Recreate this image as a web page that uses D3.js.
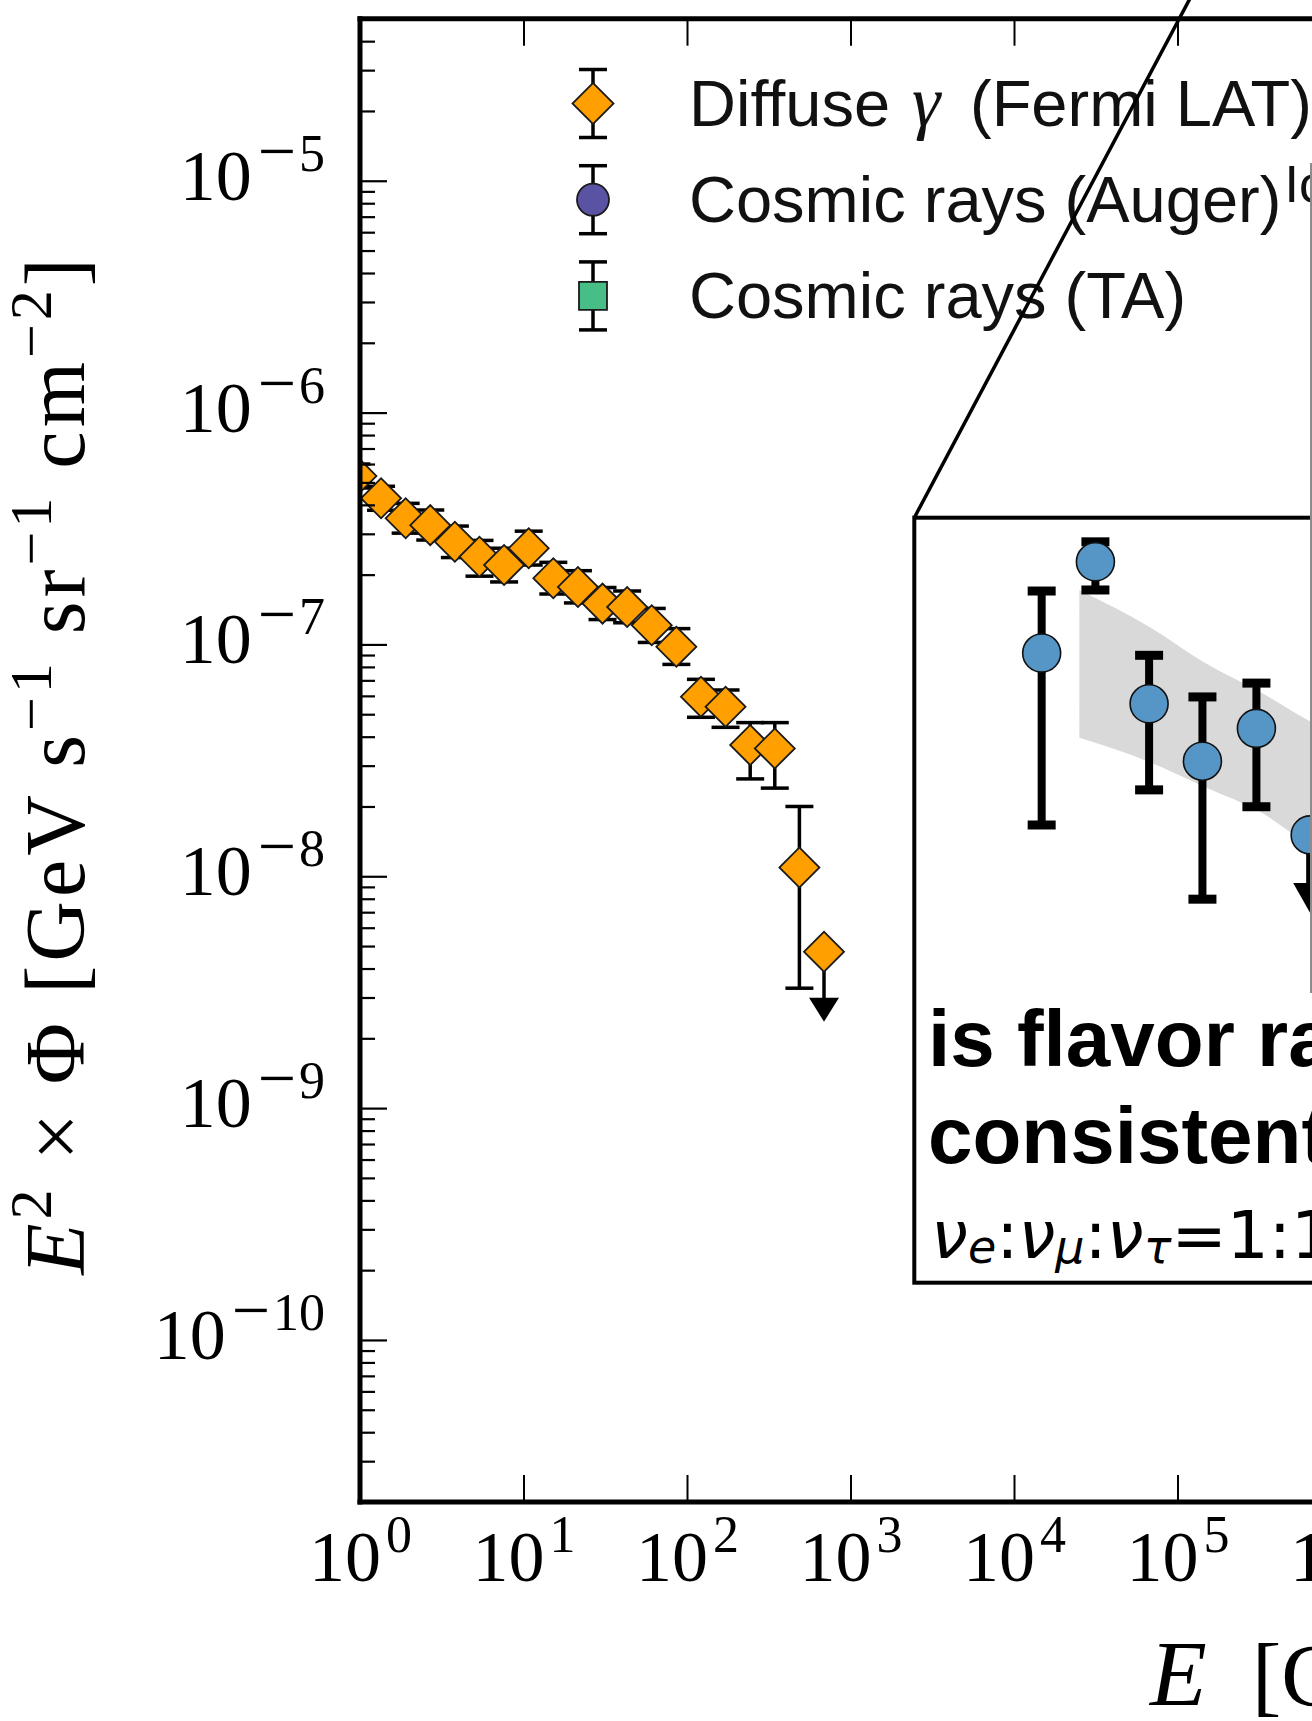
<!DOCTYPE html>
<html>
<head>
<meta charset="utf-8">
<title>Diffuse gamma rays, cosmic rays and astrophysical neutrinos</title>
<script src="https://cdn.jsdelivr.net/npm/d3@7/dist/d3.min.js"></script>
<style>
  html, body { margin: 0; padding: 0; background: #fff; overflow: hidden; }
  svg { display: block; }
</style>
</head>
<body>
<svg id="chart" width="1312" height="1721"></svg>
<script>
// ---------------- data ----------------
// Fermi LAT diffuse gamma-ray spectrum: bin centres [GeV]
const fermiEnergy = [0.951, 1.345, 1.902, 2.690, 3.804, 5.380, 7.608, 10.76, 15.22, 21.52,
                     30.43, 43.04, 60.87, 86.08, 121.7, 172.1, 243.5, 344.3, 486.9, 688.6];
// E^2 x Phi [GeV s^-1 sr^-1 cm^-2]
const fermiFlux = [5.33e-7, 4.27e-7, 3.50e-7, 3.27e-7, 2.77e-7, 2.39e-7, 2.20e-7, 2.60e-7, 1.93e-7, 1.77e-7,
                   1.50e-7, 1.45e-7, 1.21e-7, 9.78e-8, 5.95e-8, 5.39e-8, 3.68e-8, 3.56e-8, 1.09e-8, 4.73e-9];
const fermiHigh = [6.00e-7, 4.81e-7, 4.06e-7, 3.80e-7, 3.24e-7, 2.81e-7, 2.60e-7, 3.08e-7, 2.26e-7, 2.08e-7,
                   1.76e-7, 1.70e-7, 1.43e-7, 1.17e-7, 7.07e-8, 6.36e-8, 4.60e-8, 4.60e-8, 2.00e-8, null];
// lower error; for the upper limit this is where the arrow points to
const fermiLow = [4.73e-7, 3.79e-7, 3.02e-7, 2.82e-7, 2.37e-7, 1.97e-7, 1.86e-7, 2.20e-7, 1.65e-7, 1.51e-7,
                  1.28e-7, 1.24e-7, 1.02e-7, 8.20e-8, 4.85e-8, 4.39e-8, 2.63e-8, 2.40e-8, 3.29e-9, 2.36e-9];
const fermiIsLimit = [false, false, false, false, false, false, false, false, false, false,
                      false, false, false, false, false, false, false, false, false, true];

// IceCube neutrino spectrum (inset): energy [GeV], E^2 x Phi
const icecubeEnergy = [3.98e4, 6.31e4, 1.00e5, 1.58e5, 2.51e5, 3.98e5];
const icecubeFlux = [2.33e-8, 3.94e-8, 1.74e-8, 1.25e-8, 1.51e-8, 8.18e-9];
const icecubeHigh = [3.33e-8, 4.42e-8, 2.30e-8, 1.81e-8, 1.96e-8, null];
const icecubeLow = [8.66e-9, 3.35e-8, 1.06e-8, 5.65e-9, 9.62e-9, 5.22e-9];
const icecubeIsLimit = [false, false, false, false, false, true];

// best-fit band in the inset
const bandEnergy = [5.5e4, 1.0e5, 1.6e5, 2.6e5, 4.0e5, 5.4e5];
const bandHigh = [3.35e-8, 2.71e-8, 2.21e-8, 1.86e-8, 1.57e-8, 1.42e-8];
const bandLow = [1.43e-8, 1.245e-8, 1.08e-8, 9.33e-9, 7.67e-9, 6.84e-9];

// tick labels (powers of ten)
const xTickExponents = [0, 1, 2, 3, 4, 5, 6, 7, 8, 9, 10, 11];
const yTickExponents = [-10, -9, -8, -7, -6, -5];

// legend
const legendLabels = ["Diffuse γ (Fermi LAT)", "Cosmic rays (Auger)", "Cosmic rays (TA)"];
const legendSymbols = ["diamond", "circle", "square"];
const legendColors = ["#ffa000", "#5a52a3", "#48be87"];

// ---------------- layout ----------------
const W = 1312, H = 1721;
const frame = { left: 360, top: 18.7, bottom: 1502, decadePx: 163.5 };
const serif = "'Liberation Serif', 'Times New Roman', serif";
const sans = "'Liberation Sans', Arial, Helvetica, sans-serif";
const dejavu = "'DejaVu Sans', sans-serif";
const ORANGE = legendColors[0];
const BLUE = "#5596c6";

const svg = d3.select("#chart");

const x = d3.scaleLog().domain([1e0, 1e11])
  .range([frame.left, frame.left + 11 * frame.decadePx]);
const y = d3.scaleLog().domain([2e-11, 5e-5]).range([frame.bottom, frame.top]);

svg.append("defs").append("clipPath").attr("id", "plot-area")
  .append("rect")
  .attr("x", frame.left).attr("y", frame.top)
  .attr("width", W - frame.left + 100).attr("height", frame.bottom - frame.top);

// ---------------- Fermi points ----------------
const fermi = fermiEnergy.map((E, i) => ({
  E, v: fermiFlux[i], hi: fermiHigh[i], lo: fermiLow[i], limit: fermiIsLimit[i]
}));

const dataLayer = svg.append("g").attr("clip-path", "url(#plot-area)");
const bars = dataLayer.append("g").attr("stroke", "#000").attr("stroke-width", 3.5);

fermi.filter(d => !d.limit).forEach(d => {
  const cx = x(d.E);
  bars.append("line").attr("x1", cx).attr("x2", cx).attr("y1", y(d.hi)).attr("y2", y(d.lo));
  [d.hi, d.lo].forEach(v => {
    bars.append("line").attr("x1", cx - 14).attr("x2", cx + 14).attr("y1", y(v)).attr("y2", y(v));
  });
});
fermi.filter(d => d.limit).forEach(d => {
  const cx = x(d.E), tip = y(d.lo);
  bars.append("line").attr("x1", cx).attr("x2", cx).attr("y1", y(d.v)).attr("y2", tip - 23);
  dataLayer.append("path")
    .attr("d", `M${cx - 15},${tip - 24}L${cx + 15},${tip - 24}L${cx},${tip}Z`)
    .attr("fill", "#000");
});

const diamondPath = d3.symbol(d3.symbolSquare, 800)();
dataLayer.append("g").selectAll("path").data(fermi).join("path")
  .attr("d", diamondPath)
  .attr("transform", d => `translate(${x(d.E)},${y(d.v)}) rotate(45)`)
  .attr("fill", ORANGE).attr("stroke", "#1a1a1a").attr("stroke-width", 1.8);

// ---------------- axes ----------------
function powerLabel(textSel, exp) {
  textSel.append("tspan").text("10");
  if (exp < 0) {
    textSel.append("tspan").attr("font-size", 68).attr("dx", 6).attr("dy", -26).text("\u2212");
    textSel.append("tspan").attr("font-size", 52).attr("dx", 3).attr("dy", -3).text(String(-exp));
  } else {
    textSel.append("tspan").attr("font-size", 52).attr("dx", 5).attr("dy", -29).text(String(exp));
  }
}

const xDecades = xTickExponents.map(e => Math.pow(10, e));

const xBottom = svg.append("g").attr("transform", `translate(0,${frame.bottom})`)
  .call(d3.axisBottom(x).tickValues(xDecades).tickSizeInner(-27).tickSizeOuter(0).tickFormat(() => ""));
xBottom.select(".domain").remove();
xBottom.selectAll(".tick line").attr("stroke", "#000").attr("stroke-width", 2);
xBottom.selectAll(".tick text").remove();
xBottom.selectAll(".tick").each(function (d) {
  const t = d3.select(this).append("text")
    .attr("x", 0).attr("y", 78.7)
    .attr("text-anchor", "middle")
    .attr("font-family", serif).attr("font-size", 72).attr("fill", "#000");
  powerLabel(t, Math.round(Math.log10(d)));
});

const xTop = svg.append("g").attr("transform", `translate(0,${frame.top})`)
  .call(d3.axisTop(x).tickValues(xDecades).tickSizeInner(-27).tickSizeOuter(0).tickFormat(() => ""));
xTop.select(".domain").remove();
xTop.selectAll(".tick line").attr("stroke", "#000").attr("stroke-width", 2);
xTop.selectAll(".tick text").remove();

const yMajor = yTickExponents.map(e => Math.pow(10, e));
const yMinor = y.ticks().filter(v => !yMajor.some(m => Math.abs(v - m) / m < 1e-6));

const yMinorAxis = svg.append("g").attr("transform", `translate(${frame.left},0)`)
  .call(d3.axisLeft(y).tickValues(yMinor).tickSizeInner(-15).tickSizeOuter(0).tickFormat(() => ""));
yMinorAxis.select(".domain").remove();
yMinorAxis.selectAll(".tick line").attr("stroke", "#000").attr("stroke-width", 2.2);
yMinorAxis.selectAll(".tick text").remove();

const yMajorAxis = svg.append("g").attr("transform", `translate(${frame.left},0)`)
  .call(d3.axisLeft(y).tickValues(yMajor).tickSizeInner(-27).tickSizeOuter(0).tickFormat(() => ""));
yMajorAxis.select(".domain").remove();
yMajorAxis.selectAll(".tick line").attr("stroke", "#000").attr("stroke-width", 2.2);
yMajorAxis.selectAll(".tick text").remove();
yMajorAxis.selectAll(".tick").each(function (d) {
  const t = d3.select(this).append("text")
    .attr("x", -35).attr("y", 18.5)
    .attr("text-anchor", "end")
    .attr("font-family", serif).attr("font-size", 72).attr("fill", "#000");
  powerLabel(t, Math.round(Math.log10(d)));
});

// spines
const spines = svg.append("g").attr("stroke", "#000").attr("stroke-width", 5).attr("stroke-linecap", "square");
spines.append("line").attr("x1", frame.left).attr("x2", frame.left).attr("y1", frame.top).attr("y2", frame.bottom);
spines.append("line").attr("x1", frame.left).attr("x2", W + 20).attr("y1", frame.top).attr("y2", frame.top);
spines.append("line").attr("x1", frame.left).attr("x2", W + 20).attr("y1", frame.bottom).attr("y2", frame.bottom);

// axis titles
const yTitle = svg.append("text")
  .attr("transform", "translate(83.5,764.5) rotate(-90)")
  .attr("text-anchor", "middle")
  .attr("font-family", serif).attr("font-size", 84).attr("fill", "#000")
  .attr("letter-spacing", 4);
[
  { t: "E", it: true }, { t: "2", sup: true },
  { t: " \u00d7 \u03a6 [GeV s" }, { t: "\u22121", sup: true },
  { t: " sr" }, { t: "\u22121", sup: true },
  { t: " cm" }, { t: "\u22122", sup: true }, { t: "]" }
].reduce((raised, seg) => {
  const ts = yTitle.append("tspan").text(seg.t);
  if (seg.it) ts.attr("font-style", "italic");
  if (seg.sup) { ts.attr("font-size", 60).attr("dy", -33); return true; }
  if (raised) ts.attr("dy", 33);
  return false;
}, false);

const xTitle = svg.append("text")
  .attr("y", 1705)
  .attr("font-family", serif).attr("font-size", 88).attr("fill", "#000");
xTitle.append("tspan").attr("x", 1150).attr("font-style", "italic").attr("font-size", 93).text("E");
xTitle.append("tspan").attr("x", 1252).text("[GeV]");

// ---------------- legend ----------------
const legend = svg.append("g");
const legendX = 593, legendY0 = 103.5, legendStep = 96.2;
legendLabels.forEach((label, i) => {
  const cy = legendY0 + i * legendStep;
  const g = legend.append("g");
  g.append("line").attr("x1", legendX).attr("x2", legendX).attr("y1", cy - 34).attr("y2", cy + 34)
    .attr("stroke", "#000").attr("stroke-width", 3.5);
  [cy - 34, cy + 34].forEach(v => g.append("line")
    .attr("x1", legendX - 14).attr("x2", legendX + 14).attr("y1", v).attr("y2", v)
    .attr("stroke", "#000").attr("stroke-width", 3.5));
  let d, rot = "";
  if (legendSymbols[i] === "diamond") { d = d3.symbol(d3.symbolSquare, 840)(); rot = " rotate(45)"; }
  else if (legendSymbols[i] === "circle") { d = d3.symbol(d3.symbolCircle, Math.PI * 16 * 16)(); }
  else { d = d3.symbol(d3.symbolSquare, 784)(); }
  g.append("path").attr("d", d).attr("transform", `translate(${legendX},${cy})${rot}`)
    .attr("fill", legendColors[i]).attr("stroke", "#1a1a1a").attr("stroke-width", 1.8);

  const txt = g.append("text").attr("x", 689).attr("y", cy + 22.5)
    .attr("font-family", sans).attr("font-size", 65).attr("fill", "#111");
  const parts = label.split("γ");
  if (parts.length === 2) {
    txt.append("tspan").text(parts[0].trim());
    txt.append("tspan").attr("x", 912).attr("font-family", serif).attr("font-style", "italic")
      .attr("font-size", 72).text("γ");
    txt.append("tspan").attr("x", 970).text(parts[1].trim());
  } else {
    txt.text(label);
  }
});

// fragment of a neighbouring label at the right edge
svg.append("text").attr("x", 1284.5).attr("y", 201.7)
  .attr("font-family", sans).attr("font-size", 52).attr("fill", "#111").text("IceCube");

// ---------------- inset ----------------
const insetBox = { left: 914.3, top: 517.7, bottom: 1282.7 };
const ix = d3.scaleLog().domain([1e4, 1e6]).range([880.6, 1417.6]);
const iy = d3.scaleLog().domain([1e-9, 1e-7]).range([1200, 400]);

const inset = svg.append("g");
inset.append("rect")
  .attr("x", insetBox.left).attr("y", insetBox.top)
  .attr("width", W - insetBox.left + 60).attr("height", insetBox.bottom - insetBox.top)
  .attr("fill", "#fff").attr("stroke", "#000").attr("stroke-width", 4);

const band = bandEnergy.map((E, i) => ({ E, lo: bandLow[i], hi: bandHigh[i] }));
inset.append("path").datum(band)
  .attr("d", d3.area().curve(d3.curveMonotoneX).x(d => ix(d.E)).y0(d => iy(d.lo)).y1(d => iy(d.hi)))
  .attr("fill", "#d9d9d9");

const nu = icecubeEnergy.map((E, i) => ({
  E, v: icecubeFlux[i], hi: icecubeHigh[i], lo: icecubeLow[i], limit: icecubeIsLimit[i]
}));
const nuBars = inset.append("g").attr("stroke", "#000");
nu.forEach(d => {
  const cx = ix(d.E);
  if (!d.limit) {
    nuBars.append("line").attr("x1", cx).attr("x2", cx).attr("y1", iy(d.hi)).attr("y2", iy(d.lo))
      .attr("stroke-width", 8);
    [d.hi, d.lo].forEach(v => nuBars.append("line")
      .attr("x1", cx - 14).attr("x2", cx + 14).attr("y1", iy(v)).attr("y2", iy(v))
      .attr("stroke-width", 9));
  } else {
    const tip = iy(d.lo);
    nuBars.append("line").attr("x1", cx).attr("x2", cx).attr("y1", iy(d.v)).attr("y2", tip - 28)
      .attr("stroke-width", 8);
    inset.append("path")
      .attr("d", `M${cx - 17},${tip - 30}L${cx + 17},${tip - 30}L${cx},${tip}Z`)
      .attr("fill", "#000");
  }
});
inset.append("g").selectAll("circle").data(nu).join("circle")
  .attr("cx", d => ix(d.E)).attr("cy", d => iy(d.v)).attr("r", 19)
  .attr("fill", BLUE).attr("stroke", "#111").attr("stroke-width", 1.6);

const boldLines = ["is flavor ratio", "consistent with"];
boldLines.forEach((s, i) => {
  inset.append("text").attr("x", 928).attr("y", 1066 + i * 96.7)
    .attr("font-family", sans).attr("font-weight", "bold").attr("font-size", 80)
    .attr("fill", "#000").text(s);
});

// flavour ratio, set as running text with subscripts
const ratio = inset.append("text").attr("x", 931).attr("y", 1258)
  .attr("font-family", dejavu).attr("font-size", 66).attr("fill", "#000");
[
  { t: "\u03bd", it: true }, { t: "e", sub: true },
  { t: ":" },
  { t: "\u03bd", it: true }, { t: "\u03bc", sub: true },
  { t: ":" },
  { t: "\u03bd", it: true }, { t: "\u03c4", sub: true },
  { t: "=1:1:1" }
].reduce((lowered, seg) => {
  const ts = ratio.append("tspan").text(seg.t);
  if (seg.it || seg.sub) ts.attr("font-style", "italic");
  if (seg.sub) { ts.attr("font-size", 46).attr("dy", 5); return true; }
  if (lowered) ts.attr("dy", -5);
  return false;
}, false);

// connector from the inset corner
svg.append("line")
  .attr("x1", insetBox.left).attr("y1", insetBox.top)
  .attr("x2", insetBox.left + 0.531 * 600).attr("y2", insetBox.top - 600)
  .attr("stroke", "#000").attr("stroke-width", 3.5);

// edge of the neighbouring panel
svg.append("line").attr("x1", 1311).attr("x2", 1311).attr("y1", 163).attr("y2", 993)
  .attr("stroke", "#8c8c8c").attr("stroke-width", 2);
</script>
</body>
</html>
